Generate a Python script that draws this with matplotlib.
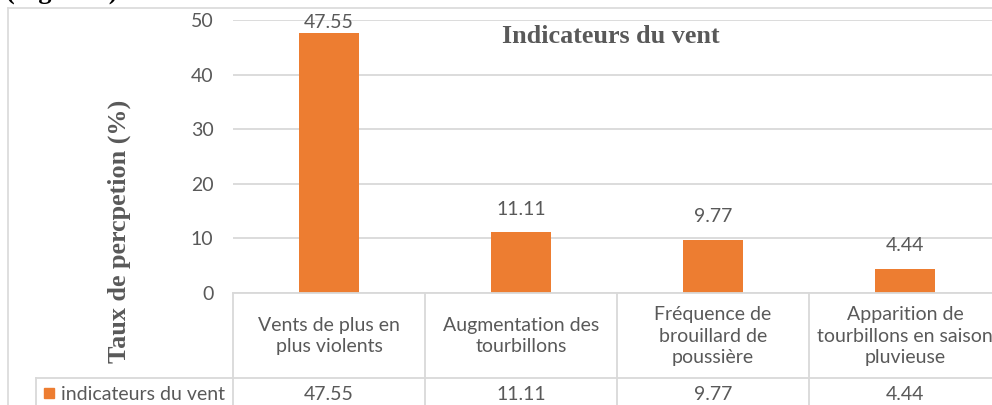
import matplotlib
matplotlib.use("Agg")
import matplotlib.pyplot as plt
from matplotlib.lines import Line2D
from matplotlib.patches import Rectangle

categories = ["Vents de plus en\nplus violents",
              "Augmentation des\ntourbillons",
              "Fréquence de\nbrouillard de\npoussière",
              "Apparition de\ntourbillons en saison\npluvieuse"]
values = [47.55, 11.11, 9.77, 4.44]
value_labels = ["47.55", "11.11", "9.77", "4.44"]
series_name = "indicateurs du vent"
yticks = [0, 10, 20, 30, 40, 50]
title = "Indicateurs du vent"
ylabel = "Taux de percpetion (%)"

W, H = 992, 405
BAR = "#ED7D31"
GRID = "#D9D9D9"
TXT = "#595959"
SANS = ["Lato", "DejaVu Sans"]
SERIF = ["Liberation Serif", "DejaVu Serif"]
FS = 14

fig = plt.figure(figsize=(W / 100, H / 100), dpi=100)
fig.patch.set_facecolor("white")

def fx(px):
    return px / W

def fy(py):
    return 1 - py / H

# axes: x from 233 px to 1001 px, y from 20 px (50) to 293 px (0)
ax = fig.add_axes([fx(233), fy(293), fx(1001) - fx(233), fy(20) - fy(293)])
ax.set_xlim(-0.5, len(categories) - 0.5)
ax.set_ylim(0, 50)
x = list(range(len(categories)))
ax.bar(x, values, width=0.3125, color=BAR, zorder=3)
for xi, v, lab in zip(x, values, value_labels):
    ax.text(xi, min(v + 2.7, 47.9), lab, ha="center", va="bottom", fontsize=FS,
            color=TXT, family=SANS, zorder=4)
ax.set_yticks(yticks)
ax.yaxis.grid(True, color=GRID, linewidth=1.3)
ax.set_axisbelow(True)
for s in ax.spines.values():
    s.set_visible(False)
ax.tick_params(axis="y", length=0, pad=14, labelsize=FS, labelcolor=TXT)
for t in ax.get_yticklabels():
    t.set_family(SANS)
ax.set_xticks([])

# title
fig.text(fx(611), fy(43), title, ha="center", va="baseline", fontsize=18.8,
         fontweight="bold", color=TXT, family=SERIF)
# y label
fig.text(fx(119), fy(231), ylabel, ha="center", va="center", fontsize=18.8,
         fontweight="bold", color=TXT, family=SERIF, rotation=90)

# partially visible caption above the chart (cut by the top edge, as in the source)
fig.text(fx(6), fy(-1), "(Figure 3).", ha="left", va="baseline", fontsize=19,
         fontweight="bold", color="black", family=SERIF)

# chart border
fig.add_artist(Line2D([fx(8), fx(1000)], [fy(8), fy(8)], color=GRID, lw=1.2))
fig.add_artist(Line2D([fx(8), fx(8)], [fy(8), fy(410)], color=GRID, lw=1.2))

# data table
col_w = 192
x0 = 233
ytop, ymid, ybot = 293, 378, 420
fig.add_artist(Line2D([fx(x0), fx(1000)], [fy(ytop), fy(ytop)], color=GRID, lw=1.3))
fig.add_artist(Line2D([fx(36), fx(1000)], [fy(ymid), fy(ymid)], color=GRID, lw=1.3))
fig.add_artist(Line2D([fx(36), fx(36)], [fy(ymid), fy(ybot)], color=GRID, lw=1.3))
for i in range(len(categories) + 1):
    xx = x0 + i * col_w
    fig.add_artist(Line2D([fx(xx), fx(xx)], [fy(ytop), fy(ybot)], color=GRID, lw=1.3))

for i, (cat, lab) in enumerate(zip(categories, value_labels)):
    cx = x0 + (i + 0.5) * col_w
    fig.text(fx(cx), fy(336), cat, ha="center", va="center", fontsize=FS,
             color=TXT, family=SANS, linespacing=1.3)
    fig.text(fx(cx), fy(395), lab, ha="center", va="center", fontsize=FS,
             color=TXT, family=SANS)

fig.add_artist(Rectangle((fx(44), fy(398)), fx(10), 10 / H, color=BAR,
                         transform=fig.transFigure))
fig.text(fx(61), fy(395), series_name, ha="left", va="center", fontsize=FS,
         color=TXT, family=SANS)

fig.savefig("out.png", dpi=100, facecolor="white")
